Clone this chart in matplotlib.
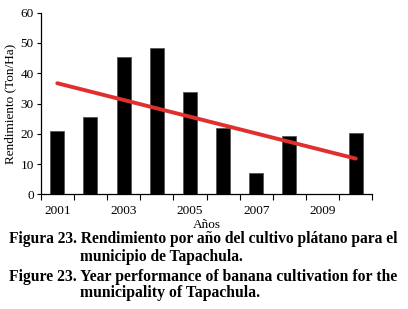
import numpy as np
import matplotlib
matplotlib.use("Agg")
import matplotlib.pyplot as plt

# data
years = [2001, 2002, 2003, 2004, 2005, 2006, 2007, 2008, 2009, 2010]
rendimiento = [21.0, 25.4, 45.2, 48.3, 33.8, 21.9, 7.2, 19.3, 0.0, 20.1]
trend_ends = [36.7, 11.8]
tick_labels = ["2001", "", "2003", "", "2005", "", "2007", "", "2009", ""]

plt.rcParams["font.family"] = ["Liberation Serif", "DejaVu Serif"]

fig = plt.figure(figsize=(4.08, 3.09), dpi=100)
ax = fig.add_axes([40.7 / 408, 1 - 194.3 / 309, (372.3 - 40.7) / 408, (194.3 - 12.7) / 309])

x = np.arange(len(years))
ax.bar(x, rendimiento, width=0.42, color="black", edgecolor="#555555", linewidth=0.6)
ax.plot([x[0], x[-1]], trend_ends, color="#e0302c", linewidth=2.8, solid_capstyle="round")

ax.set_xlim(-0.5, len(years) - 0.5)
ax.set_ylim(0, 60)
ax.set_yticks(range(0, 61, 10))
ax.set_xticks(np.arange(len(years) + 1) - 0.5)
ax.set_xticklabels([])
ax.set_xticks(x, minor=True)
ax.set_xticklabels(tick_labels, minor=True)
ax.tick_params(axis="x", which="minor", length=0, pad=8, labelsize=9.5)
ax.tick_params(axis="x", which="major", length=4, direction="out")
ax.tick_params(axis="y", length=3, direction="out", labelsize=9.5, pad=2)

for s in ["top", "right"]:
    ax.spines[s].set_visible(False)
for s in ["left", "bottom"]:
    ax.spines[s].set_linewidth(0.9)

ax.set_xlabel("Años", fontsize=9.5, labelpad=1)
ax.set_ylabel("Rendimiento (Ton/Ha)", fontsize=9.5, labelpad=3)

cap = dict(fontweight="bold", va="center", ha="left")
fig.text(9 / 408, 1 - 239 / 309, "Figura 23. Rendimiento por año del cultivo plátano para el", fontsize=11.2, **cap)
fig.text(80 / 408, 1 - 257 / 309, "municipio de Tapachula.", fontsize=11.2, **cap)
fig.text(9 / 408, 1 - 277 / 309, "Figure 23. Year performance of banana cultivation for the", fontsize=11.3, **cap)
fig.text(80 / 408, 1 - 293 / 309, "municipality of Tapachula.", fontsize=11.3, **cap)

fig.savefig("out.png", dpi=100)
